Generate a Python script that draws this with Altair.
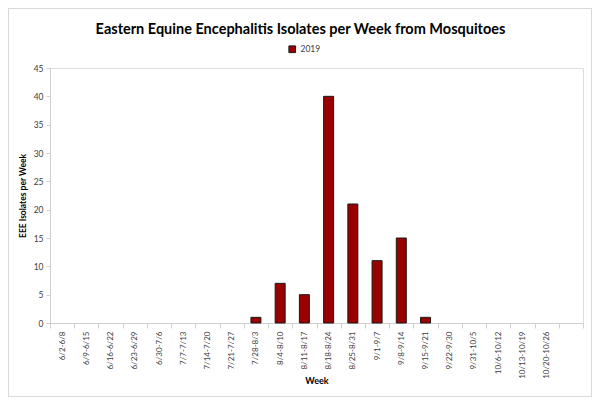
import altair as alt
import pandas as pd

weeks = ["6/2-6/8", "6/9-6/15", "6/16-6/22", "6/23-6/29", "6/30-7/6", "7/7-7/13",
         "7/14-7/20", "7/21-7/27", "7/28-8/3", "8/4-8/10", "8/11-8/17", "8/18-8/24",
         "8/25-8/31", "9/1-9/7", "9/8-9/14", "9/15-9/21", "9/22-9/30", "9/31-10/5",
         "10/6-10/12", "10/13-10/19", "10/20-10/26", " "]
isolates = [0, 0, 0, 0, 0, 0, 0, 0, 1, 7, 5, 40, 21, 11, 15, 1, 0, 0, 0, 0, 0, 0]
series = ["2019"] * len(weeks)

df = pd.DataFrame({"Week": weeks, "Isolates": isolates, "Year": series})

FONT = "Lato"
W, H = 533, 255

bars = alt.Chart(df).mark_bar(size=10, stroke="#1a1a1a", strokeWidth=1).encode(
    x=alt.X("Week:N", sort=weeks,
            scale=alt.Scale(domain=weeks, paddingInner=0, paddingOuter=0),
            axis=alt.Axis(title="Week", labelAngle=-90, labelFontSize=8, labelColor="#404040",
                          tickBand="extent", tickColor="#d0d0d0", domainColor="#d0d0d0",
                          tickSize=5, labelPadding=3, titleFontSize=9, titleFontWeight="bold",
                          titleColor="#000000", titleY=53, labelFont=FONT, titleFont=FONT)),
    y=alt.Y("Isolates:Q",
            scale=alt.Scale(domain=[0, 45], nice=False),
            axis=alt.Axis(title="EEE Isolates per Week", values=list(range(0, 50, 5)),
                          grid=False, labelFontSize=8.5, labelColor="#404040",
                          tickColor="#d0d0d0", domainColor="#d0d0d0", tickSize=4,
                          labelPadding=3, titleFontSize=8.5, titleFontWeight="bold",
                          titleColor="#000000", titleX=-23, titleY=H / 2,
                          labelFont=FONT, titleFont=FONT)),
    strokeOpacity=alt.condition("datum.Isolates > 0", alt.value(1), alt.value(0)),
    color=alt.Color("Year:N", scale=alt.Scale(range=["#990000"]),
                    legend=alt.Legend(title=None, orient="none", legendX=238, legendY=-23,
                                      symbolType="square", symbolSize=45,
                                      symbolStrokeColor="#1a1a1a", symbolStrokeWidth=1,
                                      labelFontSize=8.5, labelColor="#404040", labelFont=FONT))
)

frame = alt.Chart(df).mark_rect(fill=None, stroke="#d9d9d9", strokeWidth=1).encode(
    x=alt.value(-41.5), x2=alt.value(W + 8.5), y=alt.value(-59.5), y2=alt.value(H + 73.5)
)

chart = alt.layer(frame, bars).properties(
    width=W, height=H,
    title=alt.TitleParams("Eastern Equine Encephalitis Isolates per Week from Mosquitoes",
                          fontSize=14.5, font=FONT, fontWeight="bold", color="#000000",
                          anchor="middle", dx=-16, dy=37, offset=8),
    autosize=alt.AutoSizeParams(type="none"),
    padding={"left": 42, "top": 60, "right": 9, "bottom": 80},
).configure_view(stroke=None).configure(background="white")

chart.save("out.html", embed_options={"renderer": "svg", "actions": False})
